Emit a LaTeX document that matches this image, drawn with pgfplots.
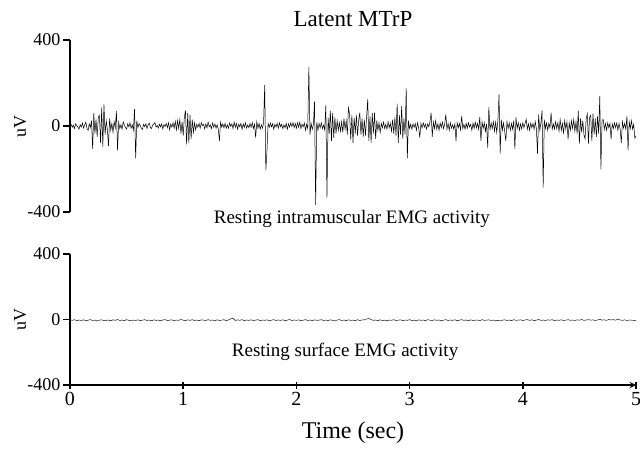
\documentclass[border=0pt]{standalone}
\usepackage{fontspec}
\setmainfont{Liberation Serif}
\usepackage{pgfplots}
\usepackage{pgfplotstable}
\pgfplotsset{compat=1.18}

\pgfplotstableread[row sep=\\]{
y \\
0 \\ 8 \\ -6 \\ 4 \\ -12 \\ 10 \\ 2 \\ -5 \\ -15 \\ 6 \\
-4 \\ 14 \\ -10 \\ 6 \\ 18 \\ -12 \\ -20 \\ 10 \\ -8 \\ 25 \\
-108 \\ 60 \\ -35 \\ 30 \\ -50 \\ 40 \\ 50 \\ -80 \\ 85 \\ -98 \\
100 \\ -40 \\ 25 \\ -15 \\ -93 \\ 35 \\ -20 \\ 12 \\ -30 \\ 20 \\
-10 \\ 70 \\ -113 \\ 18 \\ -12 \\ 6 \\ -15 \\ 20 \\ 5 \\ -8 \\
-14 \\ 10 \\ -4 \\ 15 \\ -10 \\ 5 \\ -20 \\ 78 \\ -150 \\ 25 \\
-8 \\ 12 \\ 4 \\ -10 \\ -16 \\ 8 \\ -3 \\ 10 \\ -12 \\ 6 \\
14 \\ -6 \\ -12 \\ 4 \\ 10 \\ 16 \\ -5 \\ 2 \\ -10 \\ 8 \\
-4 \\ 10 \\ -14 \\ 6 \\ -2 \\ 12 \\ -8 \\ 15 \\ -18 \\ 10 \\
-6 \\ 15 \\ -10 \\ 22 \\ -18 \\ 25 \\ -12 \\ 30 \\ -35 \\ 20 \\
-45 \\ 40 \\ 73 \\ -85 \\ 60 \\ -80 \\ 50 \\ -60 \\ 30 \\ -30 \\
15 \\ -18 \\ 8 \\ -6 \\ 12 \\ -10 \\ 16 \\ 2 \\ 8 \\ -14 \\
10 \\ -8 \\ 18 \\ -4 \\ 5 \\ -12 \\ 14 \\ -6 \\ 10 \\ -10 \\
6 \\ -15 \\ -70 \\ 18 \\ -5 \\ 10 \\ -8 \\ 12 \\ -10 \\ 5 \\
-10 \\ 14 \\ -2 \\ 10 \\ -12 \\ 18 \\ -6 \\ 12 \\ -15 \\ 8 \\
-4 \\ 12 \\ -16 \\ 10 \\ -6 \\ 15 \\ -10 \\ 5 \\ -8 \\ 12 \\
-6 \\ 16 \\ -12 \\ 8 \\ -54 \\ 20 \\ -10 \\ 12 \\ -15 \\ 5 \\
-10 \\ 15 \\ 190 \\ -206 \\ -116 \\ 12 \\ -6 \\ 14 \\ -4 \\ 10 \\
-15 \\ 8 \\ -5 \\ 12 \\ -10 \\ 15 \\ -3 \\ 8 \\ -12 \\ 5 \\
-8 \\ 12 \\ -15 \\ 10 \\ -5 \\ 14 \\ -2 \\ 16 \\ -8 \\ 12 \\
-10 \\ 15 \\ -6 \\ 18 \\ -12 \\ 8 \\ -4 \\ 14 \\ -20 \\ 8 \\
-12 \\ 274 \\ -40 \\ 12 \\ -15 \\ 5 \\ 113 \\ -367 \\ 18 \\ -20 \\
12 \\ -8 \\ 15 \\ -12 \\ 4 \\ -18 \\ 98 \\ -333 \\ 40 \\ -35 \\
70 \\ -70 \\ 60 \\ -55 \\ 40 \\ -35 \\ 25 \\ -20 \\ 15 \\ -25 \\
20 \\ -30 \\ 35 \\ -15 \\ 25 \\ -40 \\ 85 \\ 54 \\ -62 \\ 50 \\
-78 \\ 40 \\ -35 \\ 50 \\ -45 \\ 25 \\ 62 \\ -40 \\ 35 \\ -50 \\
30 \\ -45 \\ 40 \\ 124 \\ -70 \\ 45 \\ -78 \\ 60 \\ -35 \\ 62 \\
-60 \\ 25 \\ -20 \\ 15 \\ -30 \\ 12 \\ -8 \\ 18 \\ -12 \\ 8 \\
-15 \\ 20 \\ -8 \\ 12 \\ -25 \\ 30 \\ -35 \\ 40 \\ -45 \\ 104 \\
-78 \\ 50 \\ -40 \\ 93 \\ -60 \\ 35 \\ -40 \\ 175 \\ -150 \\ 25 \\
-12 \\ 8 \\ -15 \\ 10 \\ -6 \\ 12 \\ -20 \\ 15 \\ -8 \\ -54 \\
12 \\ -10 \\ 15 \\ -5 \\ 8 \\ -14 \\ 10 \\ -4 \\ 20 \\ 62 \\
-50 \\ 18 \\ -12 \\ 25 \\ -15 \\ 10 \\ -20 \\ 14 \\ -8 \\ 18 \\
-12 \\ 8 \\ 54 \\ -15 \\ 12 \\ -20 \\ 15 \\ -10 \\ 6 \\ -14 \\
10 \\ -70 \\ 15 \\ -8 \\ 12 \\ -18 \\ 46 \\ -12 \\ 8 \\ -15 \\
12 \\ -10 \\ 15 \\ -5 \\ 8 \\ -20 \\ 14 \\ -12 \\ 18 \\ -8 \\
12 \\ -15 \\ 42 \\ -70 \\ 20 \\ -12 \\ 15 \\ -25 \\ 10 \\ -100 \\
88 \\ -20 \\ 15 \\ -12 \\ 20 \\ -25 \\ 18 \\ -30 \\ 25 \\ 147 \\
-129 \\ 30 \\ -20 \\ 15 \\ -25 \\ -70 \\ 20 \\ -12 \\ 15 \\ -20 \\
12 \\ -15 \\ 25 \\ -108 \\ 40 \\ -12 \\ 15 \\ -20 \\ 10 \\ -14 \\
15 \\ -8 \\ 12 \\ 31 \\ -15 \\ 10 \\ -20 \\ 14 \\ -8 \\ 12 \\
-15 \\ 20 \\ -12 \\ -129 \\ 54 \\ -20 \\ 15 \\ 73 \\ -287 \\ 30 \\
-12 \\ 15 \\ -20 \\ 12 \\ -8 \\ 62 \\ -15 \\ 10 \\ -14 \\ 20 \\
-12 \\ 15 \\ -25 \\ 30 \\ -20 \\ 12 \\ -35 \\ 25 \\ -15 \\ 20 \\
-62 \\ 15 \\ -20 \\ 25 \\ -12 \\ 30 \\ -25 \\ 20 \\ -35 \\ 70 \\
-82 \\ 35 \\ -30 \\ 25 \\ -40 \\ -60 \\ 35 \\ 57 \\ -82 \\ 40 \\
50 \\ -70 \\ 57 \\ -40 \\ 35 \\ -50 \\ 45 \\ -35 \\ 140 \\ -202 \\
25 \\ 31 \\ -15 \\ 12 \\ -20 \\ 15 \\ -8 \\ 12 \\ -62 \\ 10 \\
-12 \\ 15 \\ -8 \\ 14 \\ -20 \\ 12 \\ -15 \\ -78 \\ 20 \\ -10 \\
12 \\ -15 \\ 46 \\ -113 \\ 20 \\ -12 \\ 25 \\ -15 \\ 8 \\ -57 \\
-45 \\
}\intra

\pgfplotstableread[row sep=\\]{
y \\
-2 \\ -5 \\ -1 \\ -7 \\ -3 \\ -6 \\ -2 \\ -8 \\ -4 \\ -1 \\
-6 \\ -3 \\ -9 \\ -4 \\ -2 \\ -7 \\ -5 \\ -3 \\ -8 \\ -2 \\
-5 \\ 0 \\ -6 \\ -3 \\ -7 \\ -1 \\ -5 \\ -8 \\ -3 \\ -6 \\
-2 \\ -7 \\ -4 \\ -1 \\ -6 \\ -3 \\ -8 \\ -2 \\ -5 \\ -4 \\
-7 \\ -3 \\ -1 \\ -6 \\ -4 \\ -2 \\ -8 \\ -3 \\ -5 \\ 0 \\
-4 \\ -7 \\ -2 \\ -5 \\ -1 \\ -6 \\ -3 \\ -8 \\ -2 \\ -4 \\
-6 \\ -1 \\ -5 \\ -3 \\ -8 \\ -2 \\ -6 \\ -4 \\ -1 \\ -7 \\
-3 \\ 4 \\ 8 \\ -6 \\ -2 \\ -5 \\ -1 \\ -7 \\ -3 \\ -5 \\
-2 \\ -6 \\ -4 \\ -1 \\ -7 \\ -3 \\ -5 \\ -2 \\ -8 \\ -4 \\
-1 \\ -6 \\ -3 \\ -5 \\ -2 \\ -7 \\ -4 \\ 0 \\ -6 \\ -3 \\
-5 \\ -2 \\ -8 \\ -4 \\ -1 \\ -6 \\ -3 \\ -7 \\ -2 \\ -5 \\
-4 \\ -1 \\ -6 \\ -3 \\ -7 \\ -2 \\ -5 \\ -9 \\ -3 \\ -1 \\
-6 \\ -3 \\ -7 \\ -2 \\ -5 \\ -4 \\ -8 \\ -1 \\ -6 \\ -3 \\
-2 \\ 3 \\ 6 \\ -1 \\ -5 \\ -3 \\ -7 \\ -2 \\ -6 \\ -4 \\
-8 \\ -3 \\ -5 \\ -1 \\ -6 \\ -4 \\ -2 \\ -7 \\ -3 \\ -5 \\
-1 \\ -6 \\ -4 \\ -8 \\ -2 \\ -5 \\ -3 \\ -7 \\ -1 \\ -4 \\
-6 \\ -2 \\ -5 \\ -3 \\ -8 \\ -4 \\ -1 \\ -6 \\ -3 \\ -5 \\
-2 \\ -7 \\ -4 \\ -1 \\ -5 \\ -3 \\ -8 \\ -2 \\ -6 \\ -4 \\
-3 \\ -7 \\ -1 \\ -5 \\ -4 \\ -2 \\ -6 \\ -3 \\ -8 \\ -5 \\
-9 \\ -4 \\ -2 \\ -6 \\ -3 \\ -7 \\ -1 \\ -5 \\ -4 \\ -2 \\
-6 \\ -3 \\ -1 \\ -5 \\ -2 \\ -7 \\ -4 \\ 0 \\ -5 \\ -3 \\
-6 \\ -2 \\ -4 \\ -1 \\ -7 \\ -3 \\ -5 \\ -2 \\ -6 \\ -4 \\
-1 \\ -5 \\ -3 \\ -6 \\ -2 \\ -4 \\ 0 \\ -5 \\ -3 \\ -1 \\
-4 \\ -2 \\ -6 \\ -3 \\ 1 \\ -4 \\ -2 \\ -5 \\ 0 \\ -3 \\
-1 \\ -4 \\ 2 \\ -3 \\ -5 \\ -2 \\ -6 \\ -3 \\ -4 \\ -5 \\
-5 \\
}\surf

\pgfplotsset{
  emgaxis/.style={
    scale only axis,
    xmin=0, xmax=5, ymin=-400, ymax=400,
    enlargelimits=false,
    clip=false,
    axis y line=left,
    axis line style={-, line width=1.8pt},
    ytick={-400,0,400},
    tick align=outside,
    major tick length=7pt,
    every tick/.style={black, line width=1.5pt},
    /pgf/number format/assume math mode=true,
    yticklabel style={font=\fontsize{18}{21}\selectfont, xshift=1pt},
    xticklabel style={font=\fontsize{20}{24}\selectfont},
  }
}

\begin{document}
\begin{tikzpicture}
\path[use as bounding box] (-70pt,-236pt) rectangle (570pt,212pt);
\begin{axis}[emgaxis,
  at={(0pt,0pt)}, anchor=south west,
  width=566pt, height=172pt,
  axis x line=none,
]
\addplot[black, line width=0.5pt] table[x expr=\coordindex*0.01, y=y] {\intra};
\node[font=\fontsize{23}{27}\selectfont, yshift=21pt] at (rel axis cs:0.5,1) {Latent MTrP};
\node[font=\fontsize{19}{22}\selectfont] at (axis cs:2.49,-432) {Resting intramuscular EMG activity};
\node[xshift=-50pt, rotate=90, font=\fontsize{18}{21}\selectfont] at (rel axis cs:0,0.5) {uV};
\end{axis}
\begin{axis}[emgaxis,
  at={(0pt,-173pt)}, anchor=south west,
  width=566pt, height=131pt,
  axis x line=bottom,
  xtick={0,1,2,3,4,5},
]
\addplot[black, line width=0.45pt] table[x expr=\coordindex*0.02, y=y] {\surf};
\node[font=\fontsize{19}{22}\selectfont] at (axis cs:2.43,-200) {Resting surface EMG activity};
\node[xshift=-50pt, rotate=90, font=\fontsize{18}{21}\selectfont] at (rel axis cs:0,0.5) {uV};
\node[font=\fontsize{24}{28}\selectfont, yshift=-48pt] at (rel axis cs:0.5,0) {Time (sec)};
\end{axis}
\end{tikzpicture}
\end{document}
